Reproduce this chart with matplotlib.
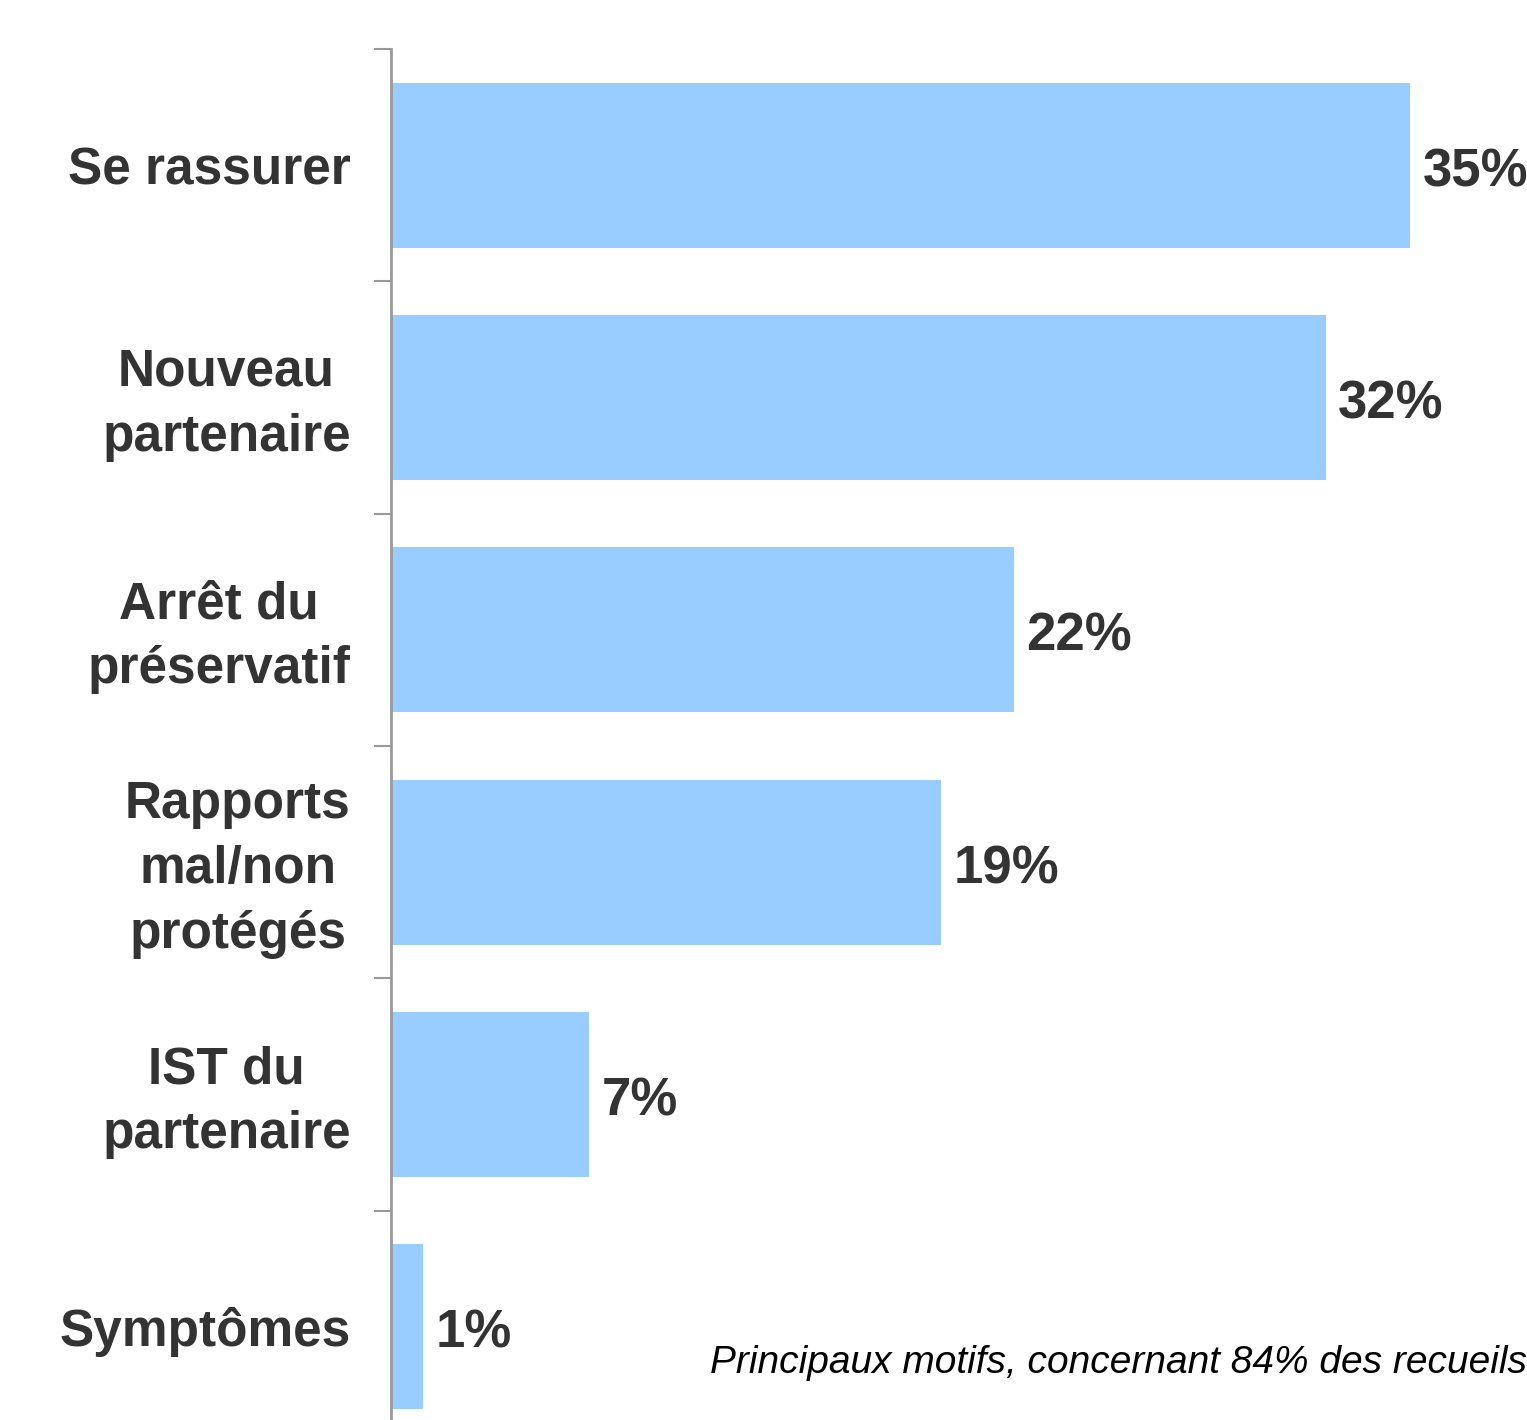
import matplotlib.pyplot as plt
import matplotlib.transforms as mtransforms
import numpy as np

motifs = ['Se rassurer', 'Nouveau\npartenaire', 'Arrêt du\npréservatif',
          'Rapports\nmal/non\nprotégés', 'IST du\npartenaire', 'Symptômes']
# bar lengths; labels as printed
pourcent = [35, 32.1, 21.4, 18.9, 6.8, 1.1]
etiquettes = ['35%', '32%', '22%', '19%', '7%', '1%']
note = 'Principaux motifs, concernant 84% des recueils'

plt.rcParams['font.family'] = ['Liberation Sans', 'DejaVu Sans']

W, H = 1527, 1420
fig = plt.figure(figsize=(W / 100, H / 100), dpi=100)
# axes reaching past the bottom edge, like the original
left, right, top, bottom = 391, 1527, 49, 1443
ax = fig.add_axes([left / W, 1 - bottom / H, (right - left) / W, (bottom - top) / H])

y = np.arange(len(motifs))
ax.barh(y, pourcent, height=0.71, color='#99CCFF')
ax.set_ylim(len(motifs) - 0.5, -0.5)
ax.set_xlim(0, 35 * (right - left) / (1410 - left))

for yi, v, lab in zip(y, pourcent, etiquettes):
    ax.annotate(lab, (v, yi), xytext=(9, -5), textcoords='offset points',
                va='center', ha='left', fontsize=38, fontweight='bold', color='#333333')

ax.set_yticks(y)
ax.set_yticklabels(motifs, fontsize=37, fontweight='bold', color='#333333',
                   multialignment='center', linespacing=1.42)
ax.tick_params(axis='y', which='major', length=0, pad=29)
ax.set_yticks(np.arange(-0.5, len(motifs) - 0.5), minor=True)
ax.tick_params(axis='y', which='minor', length=12, width=1.5, color='#999999')

# multi-line labels sit a little higher in the original
up = mtransforms.ScaledTranslation(0, 0.06, fig.dpi_scale_trans)
for t in ax.get_yticklabels():
    if '\n' in t.get_text():
        t.set_transform(t.get_transform() + up)

ax.set_xticks([])
for s in ['top', 'right', 'bottom']:
    ax.spines[s].set_visible(False)
ax.spines['left'].set_color('#999999')
ax.spines['left'].set_linewidth(2)

fig.text(1.0, 1 - 1363 / H, note, ha='right', va='center', fontsize=28,
         style='italic', color='black')

fig.savefig('out.png', dpi=100)
